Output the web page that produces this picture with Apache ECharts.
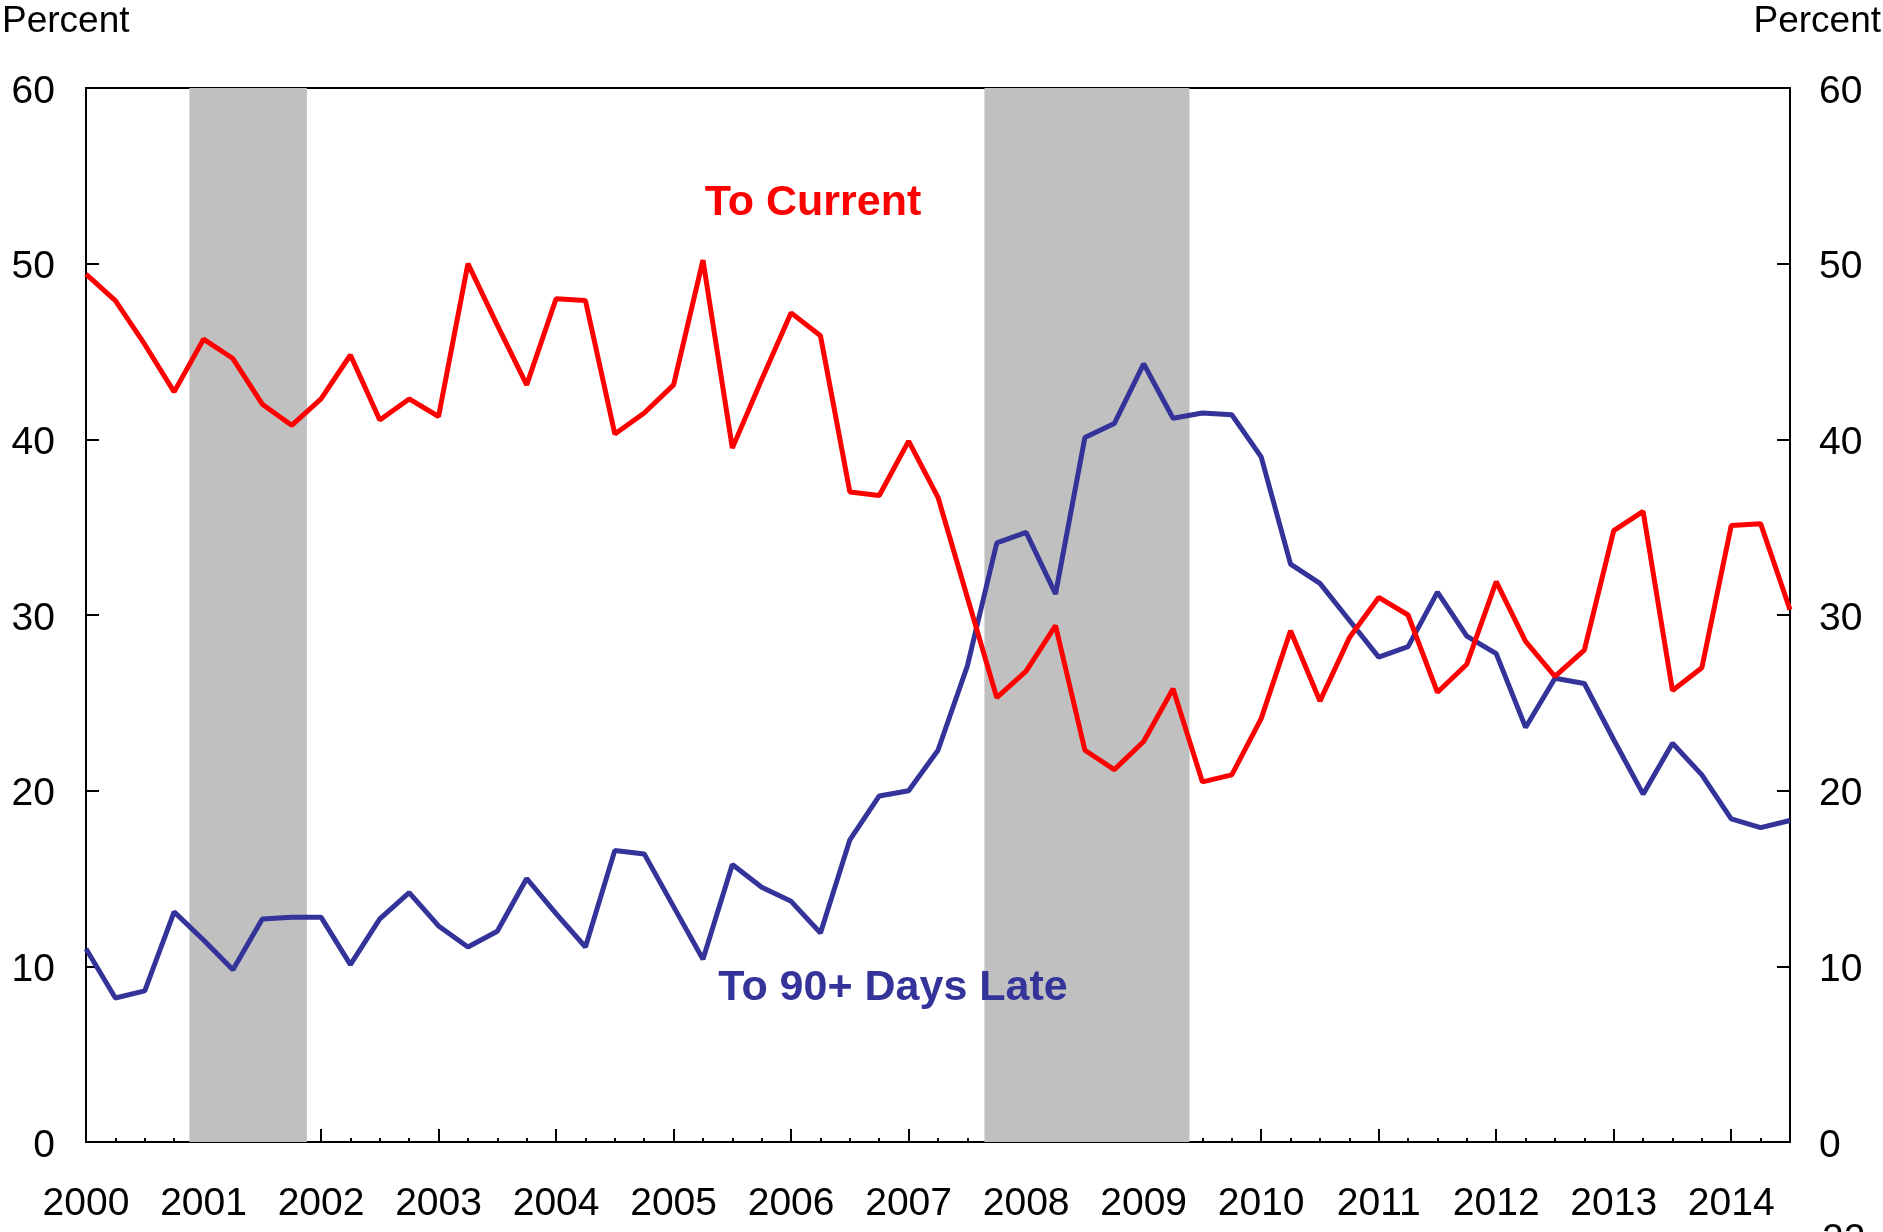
<!DOCTYPE html>
<html>
<head>
<meta charset="utf-8">
<script src="https://cdn.jsdelivr.net/npm/echarts@6/dist/echarts.min.js"></script>
<style>
  html, body { margin: 0; padding: 0; background: #fff; }
  #chart { width: 1883px; height: 1232px; }
</style>
</head>
<body>
<div id="chart"></div>
<script>
// quarterly, 2000Q1 .. 2014Q3
var startYear = 2000;
var toCurrent = [49.4, 47.9, 45.4, 42.7, 45.7, 44.6, 42.0, 40.8, 42.3, 44.8,
  41.1, 42.3, 41.3, 50.0, 46.5, 43.1, 48.0, 47.9, 40.3, 41.5,
  43.1, 50.2, 39.5, 43.4, 47.2, 45.9, 37.0, 36.8, 39.9, 36.7,
  31.0, 25.3, 26.8, 29.4, 22.3, 21.2, 22.8, 25.8, 20.5, 20.9,
  24.1, 29.1, 25.1, 28.7, 31.0, 30.0, 25.6, 27.2, 31.9, 28.5,
  26.5, 28.0, 34.8, 35.9, 25.7, 27.0, 35.1, 35.2, 30.3];
var to90Late = [11.0, 8.2, 8.6, 13.1, 11.5, 9.8, 12.7, 12.8, 12.8, 10.1,
  12.7, 14.2, 12.3, 11.1, 12.0, 15.0, 13.0, 11.1, 16.6, 16.4,
  13.4, 10.4, 15.8, 14.5, 13.7, 11.9, 17.2, 19.7, 20.0, 22.3,
  27.1, 34.1, 34.7, 31.2, 40.1, 40.9, 44.3, 41.2, 41.5, 41.4,
  39.0, 32.9, 31.8, 29.7, 27.6, 28.2, 31.3, 28.8, 27.8, 23.6,
  26.4, 26.1, 22.9, 19.8, 22.7, 20.9, 18.4, 17.9, 18.3];
// recession bands (fractional years)
var recessions = [[2000.88, 2001.88], [2007.645, 2009.39]];

var FONT = 'Liberation Sans, Arial, sans-serif';

function toPoints(arr) {
  return arr.map(function(v, i) { return [startYear + i / 4, v]; });
}

var chart = echarts.init(document.getElementById('chart'));

var yAxisCommon = {
  type: 'value',
  min: 0,
  max: 60,
  interval: 10,
  axisLine: { show: true, lineStyle: { color: '#000', width: 2 } },
  axisTick: { show: true, inside: true, length: 13, lineStyle: { color: '#000', width: 2 } },
  splitLine: { show: false },
  axisLabel: {
    color: '#000', fontFamily: FONT, fontSize: 39,
    formatter: function(v) { return '{a|' + v + '}'; },
    rich: { a: { color: '#000', fontFamily: FONT, fontSize: 39, padding: [8, 0, 0, 0] } }
  }
};

chart.setOption({
  animation: false,
  grid: { left: 86, right: 93, top: 88, bottom: 90, show: true, borderColor: '#000', borderWidth: 2, backgroundColor: 'transparent' },
  xAxis: {
    type: 'value',
    min: 2000,
    max: 2014.5,
    interval: 1,
    axisLine: { show: true, lineStyle: { color: '#000', width: 2 } },
    axisTick: { show: true, inside: true, length: 13, lineStyle: { color: '#000', width: 2 } },
    minorTick: { show: true, splitNumber: 4, length: 4, lineStyle: { color: '#000', width: 2 } },
    splitLine: { show: false },
    axisLabel: {
      color: '#000', fontFamily: FONT, fontSize: 39, margin: 43,
      formatter: function(v) { return v % 1 === 0 ? String(v) : ''; }
    }
  },
  yAxis: [
    Object.assign({}, yAxisCommon, { position: 'left', axisLabel: Object.assign({}, yAxisCommon.axisLabel, { margin: 31 }) }),
    Object.assign({}, yAxisCommon, { position: 'right', axisLabel: Object.assign({}, yAxisCommon.axisLabel, { margin: 29 }) })
  ],
  series: [
    {
      type: 'line',
      name: 'To 90+ Days Late',
      data: toPoints(to90Late),
      showSymbol: false,
      lineStyle: { color: '#333399', width: 5 },
      z: 3,
      markArea: {
        silent: true,
        itemStyle: { color: '#c0c0c0' },
        data: recessions.map(function(r) { return [{ xAxis: r[0] }, { xAxis: r[1] }]; })
      }
    },
    {
      type: 'line',
      name: 'To Current',
      data: toPoints(toCurrent),
      showSymbol: false,
      lineStyle: { color: '#ff0000', width: 5 },
      z: 4
    }
  ],
  graphic: [
    { type: 'text', left: 2, top: 3, style: { text: 'Percent', fill: '#000', font: '37px ' + FONT } },
    { type: 'text', right: 2, top: 3, style: { text: 'Percent', fill: '#000', font: '37px ' + FONT } },
    { type: 'text', x: 813, y: 203, style: { text: 'To Current', fill: '#ff0000', font: 'bold 43px ' + FONT, align: 'center', verticalAlign: 'middle' }, z: 10 },
    { type: 'text', x: 893, y: 988, style: { text: 'To 90+ Days Late', fill: '#333399', font: 'bold 43px ' + FONT, align: 'center', verticalAlign: 'middle' }, z: 10 },
    { type: 'text', x: 1822, y: 1221, style: { text: '22', fill: '#000', font: '39px ' + FONT } }
  ]
});
</script>
</body>
</html>
